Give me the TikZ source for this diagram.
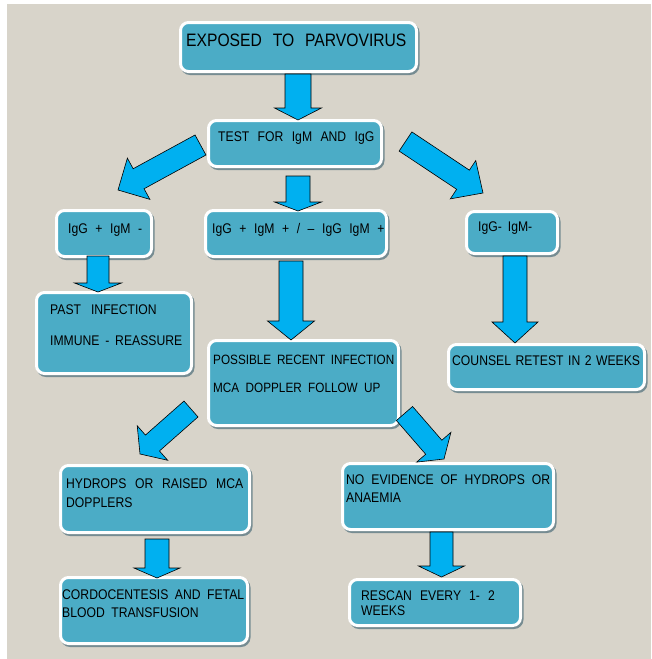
\documentclass[tikz,border=0pt]{standalone}
\usepackage{fontspec}
\newfontfamily\diagfont[FakeStretch=0.87]{Liberation Sans}
\usetikzlibrary{calc,shadows}
\definecolor{bgc}{RGB}{216,212,202}
\definecolor{boxfill}{RGB}{75,172,198}
\definecolor{arrowc}{RGB}{0,176,240}
\definecolor{shadowc}{RGB}{118,140,146}
\newcommand{\barrow}[5]{%
  \coordinate (hb) at ($(#2)!#5!(#1)$);
  \draw[blockarrow] ($(#1)!#3!90:(#2)$) -- ($(hb)!#3!90:(#2)$) -- ($(hb)!#4!90:(#2)$) -- (#2)
    -- ($(hb)!#4!-90:(#2)$) -- ($(hb)!#3!-90:(#2)$) -- ($(#1)!#3!-90:(#2)$) -- cycle;
}
\newcommand{\sk}[1]{\spaceskip=#1pt plus 0pt minus 0pt\relax}
\begin{document}
\begin{tikzpicture}[x=1pt,y=-1pt,
  box/.style={draw=white, line width=3pt, fill=boxfill, rounded corners=8pt,
    drop shadow={shadow xshift=1.5pt, shadow yshift=-2pt, fill=shadowc, draw=shadowc, opacity=1},
    inner sep=0pt, outer sep=0pt},
  lbl/.style={anchor=base west, inner sep=0pt, font=\diagfont\fontsize{14}{16}\selectfont, text=black},
  blockarrow/.style={fill=arrowc, draw=black, line width=0.6pt, line join=miter}]
\useasboundingbox (0,0) rectangle (651,659);
\fill[white] (0,0) rectangle (651,659);
\fill[bgc] (7,4) rectangle (651,659);

% boxes
\node[box, minimum width=236pt, minimum height=49pt] (b1) at (298.5,47) {};
\node[box, minimum width=173pt, minimum height=46pt] (b2) at (295,143.5) {};
\node[box, minimum width=95pt, minimum height=46pt] (b3) at (104,233.5) {};
\node[box, minimum width=181pt, minimum height=46pt] (b4) at (296,233.5) {};
\node[box, minimum width=91pt, minimum height=42pt] (b5) at (512,232.5) {};
\node[box, minimum width=155pt, minimum height=81pt] (b6) at (114,333) {};
\node[box, minimum width=190pt, minimum height=85pt] (b7) at (303.5,383) {};
\node[box, minimum width=196pt, minimum height=45pt] (b8) at (546.5,367) {};
\node[box, minimum width=189pt, minimum height=67pt] (b9) at (155,499) {};
\node[box, minimum width=211pt, minimum height=66pt] (b10) at (448,496.5) {};
\node[box, minimum width=187pt, minimum height=66pt] (b11) at (154,610.5) {};
\node[box, minimum width=171pt, minimum height=46pt] (b12) at (435,602.5) {};

% texts
\node[lbl, font=\diagfont\fontsize{18}{20}\selectfont] (t1) at (186,46.5) {\sk{10.9}EXPOSED TO PARVOVIRUS};
\node[lbl] (t2) at (218,141.7) {\sk{8.4}TEST FOR IgM AND IgG};
\node[lbl] (t3) at (68,233.3) {\sk{7.6}IgG + IgM -};
\node[lbl] (t4) at (212,233.3) {\sk{7.6}IgG + IgM + / – IgG IgM +};
\node[lbl] (t5) at (478,231.7) {\sk{6}IgG- IgM-};
\node[lbl] (t6a) at (50,314.3) {\sk{10}PAST INFECTION};
\node[lbl] (t6b) at (50,345) {\sk{5.8}IMMUNE - REASSURE};
\node[lbl, font=\diagfont\fontsize{13.5}{15}\selectfont] (t7a) at (213,364.3) {\sk{5.7}POSSIBLE RECENT INFECTION};
\node[lbl, font=\diagfont\fontsize{13.5}{15}\selectfont] (t7b) at (213,392.3) {\sk{6.4}MCA DOPPLER FOLLOW UP};
\node[lbl] (t8) at (452,365.7) {\sk{4.5}COUNSEL RETEST IN 2 WEEKS};
\node[lbl] (t9a) at (66,488.3) {\sk{8.7}HYDROPS OR RAISED MCA};
\node[lbl] (t9b) at (66,507.7) {DOPPLERS};
\node[lbl] (t10a) at (346,484.3) {\sk{7}NO EVIDENCE OF HYDROPS OR};
\node[lbl] (t10b) at (346,502.3) {ANAEMIA};
\node[lbl] (t11a) at (62,599.3) {\sk{6.5}CORDOCENTESIS AND FETAL};
\node[lbl] (t11b) at (62,617.3) {\sk{6.5}BLOOD TRANSFUSION};
\node[lbl] (t12a) at (361,600) {\sk{8.1}RESCAN EVERY 1- 2};
\node[lbl] (t12b) at (361,615.7) {WEEKS};

% arrow end points
\coordinate (a1s) at (298,74);    \coordinate (a1e) at (298,120);
\coordinate (a2s) at (298,176);   \coordinate (a2e) at (298,211);
\coordinate (aLs) at (200.5,145); \coordinate (aLe) at (118,190);
\coordinate (aRs) at (405.5,141.5); \coordinate (aRe) at (483,193);
\coordinate (a3s) at (98,256);    \coordinate (a3e) at (98,292);
\coordinate (a4s) at (291,261);   \coordinate (a4e) at (291,340);
\coordinate (a5s) at (515,256);   \coordinate (a5e) at (515,343);
\coordinate (a6s) at (191,409);   \coordinate (a6e) at (140,454);
\coordinate (a7s) at (404.5,413.5); \coordinate (a7e) at (444,459);
\coordinate (a8s) at (157,539);   \coordinate (a8e) at (157,578);
\coordinate (a9s) at (441.5,532); \coordinate (a9e) at (441.5,577);

\barrow{a1s}{a1e}{13pt}{23.5pt}{12pt}
\barrow{a2s}{a2e}{12pt}{23.5pt}{9pt}
\barrow{aLs}{aLe}{11.4pt}{23.5pt}{23.5pt}
\barrow{aRs}{aRe}{11.5pt}{23pt}{24pt}
\barrow{a3s}{a3e}{11pt}{23.5pt}{9pt}
\barrow{a4s}{a4e}{12pt}{23.5pt}{19pt}
\barrow{a5s}{a5e}{12pt}{23pt}{21pt}
\barrow{a6s}{a6e}{10.6pt}{23pt}{16.6pt}
\barrow{a7s}{a7e}{10.7pt}{22.7pt}{15.6pt}
\barrow{a8s}{a8e}{12pt}{23pt}{10pt}
\barrow{a9s}{a9e}{11.5pt}{23pt}{11pt}
\end{tikzpicture}
\end{document}
